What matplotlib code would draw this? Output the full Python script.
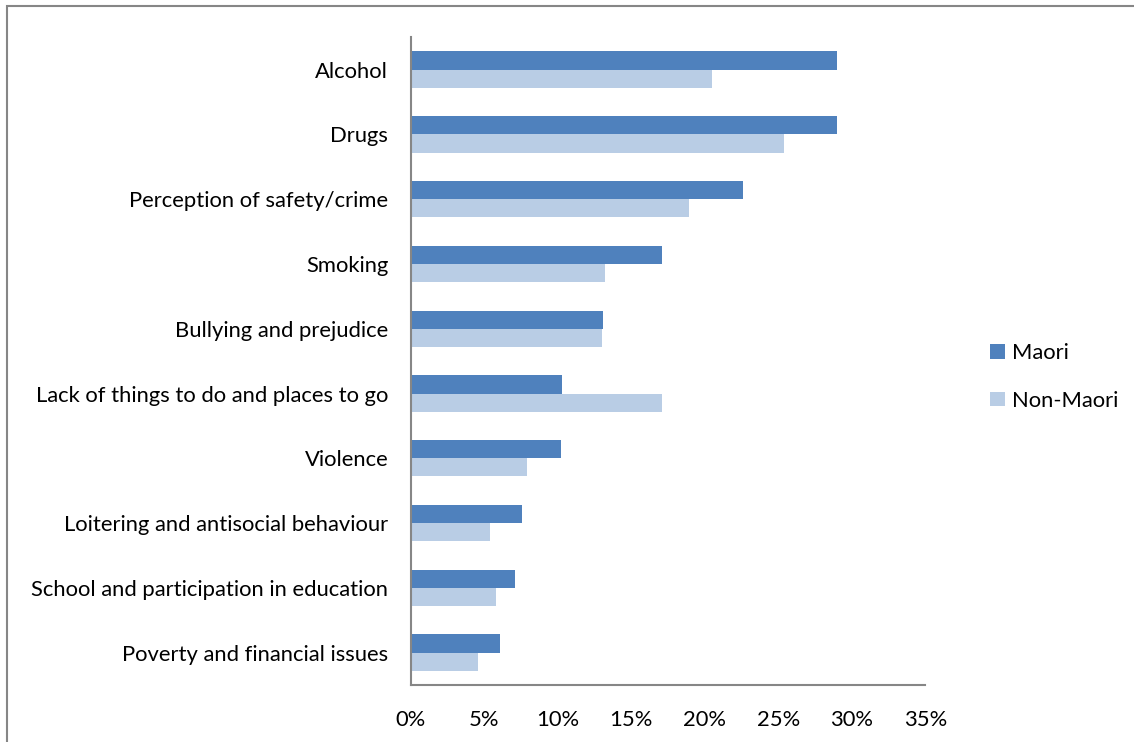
import numpy as np
import matplotlib.pyplot as plt
from matplotlib.patches import Rectangle
from matplotlib.ticker import PercentFormatter

plt.rcParams['font.family'] = ['Lato', 'DejaVu Sans']

categories = [
    'Alcohol',
    'Drugs',
    'Perception of safety/crime',
    'Smoking',
    'Bullying and prejudice',
    'Lack of things to do and places to go',
    'Violence',
    'Loitering and antisocial behaviour',
    'School and participation in education',
    'Poverty and financial issues',
]
maori = [29.0, 29.0, 22.6, 17.1, 13.1, 10.3, 10.2, 7.6, 7.1, 6.1]
non_maori = [20.5, 25.4, 18.9, 13.2, 13.0, 17.1, 7.9, 5.4, 5.8, 4.6]
xticks = [0, 5, 10, 15, 20, 25, 30, 35]

fig = plt.figure(figsize=(11.34, 7.42), dpi=100)
ax = fig.add_axes([0.362, 0.0768, 0.454, 0.873])

y = np.arange(len(categories))
h = 0.28
ax.barh(y - h / 2, maori, height=h, color='#4F81BD', label='Maori')
ax.barh(y + h / 2, non_maori, height=h, color='#B9CDE5', label='Non-Maori')

ax.set_ylim(len(categories) - 0.5, -0.5)
ax.set_xlim(0, 35)
ax.set_yticks(y)
ax.set_yticklabels(categories, fontsize=15.8)
ax.set_xticks(xticks)
ax.xaxis.set_major_formatter(PercentFormatter(decimals=0))
ax.tick_params(axis='x', labelsize=15.8, length=0, pad=18)
ax.tick_params(axis='y', length=0, pad=16)

for side in ['top', 'right']:
    ax.spines[side].set_visible(False)
for side in ['left', 'bottom']:
    ax.spines[side].set_color('#868686')
    ax.spines[side].set_linewidth(1.5)

leg = fig.legend(loc='center left', bbox_to_anchor=(0.856, 0.492), frameon=False,
                 fontsize=15.8, handlelength=0.65, handleheight=0.65,
                 handletextpad=0.35, labelspacing=1.25)

# chart area border
fig.patches.append(Rectangle((7 / 1134, -0.1), 1.2, 1 - 6 / 742 + 0.1,
                             transform=fig.transFigure, fill=False,
                             edgecolor='#868686', linewidth=1.5))

fig.savefig('out.png', dpi=100)
